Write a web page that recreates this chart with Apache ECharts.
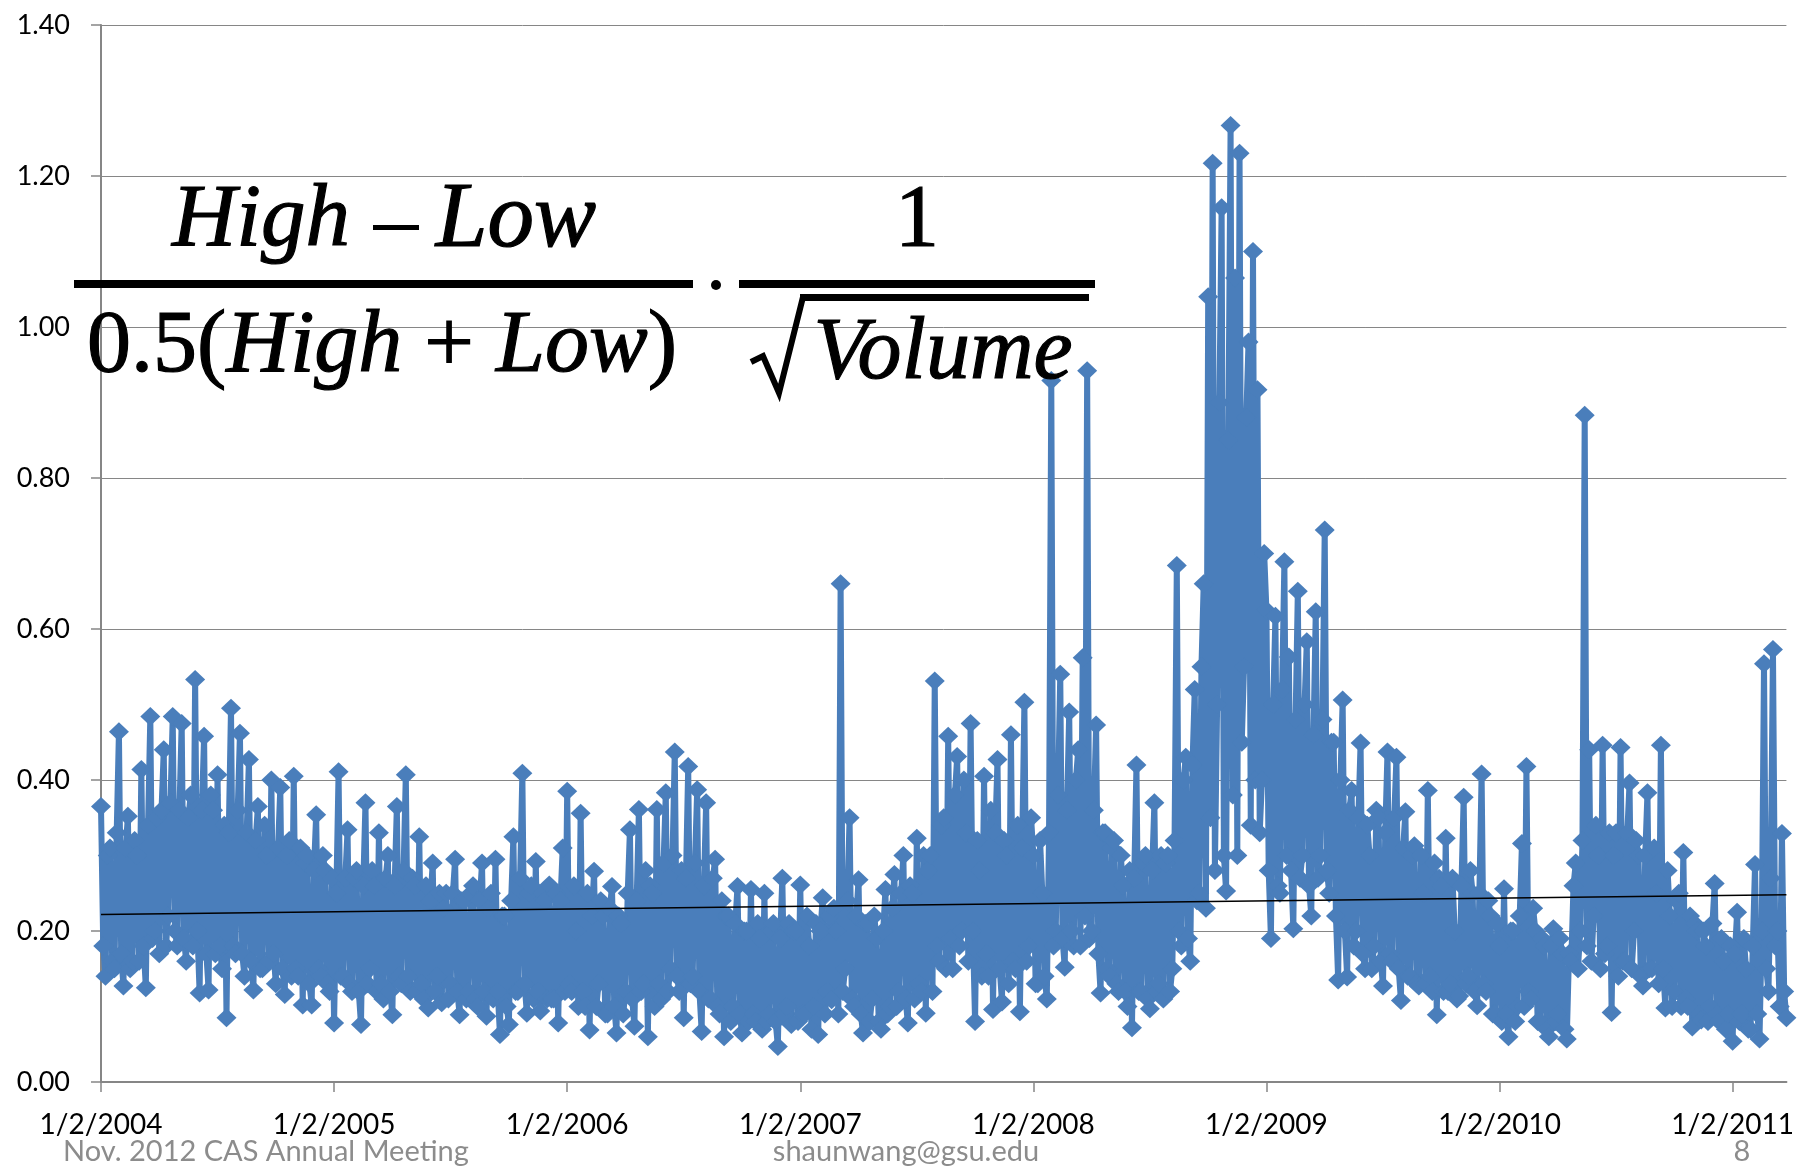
<!DOCTYPE html>
<html><head><meta charset="utf-8">
<script src="https://cdn.jsdelivr.net/npm/echarts@6/dist/echarts.min.js"></script>
<style>html,body{margin:0;padding:0;background:#fff;}#c{width:1797px;height:1168px;}</style>
</head><body><div id="c"></div>
<script>
// x-axis tick labels (one every 104 half-week points)
const tickLabels = ['1/2/2004','1/2/2005','1/2/2006','1/2/2007','1/2/2008','1/2/2009','1/2/2010','1/2/2011'];
// half-weekly readings of the liquidity measure (one row = 10 weeks)
const readings = [
  .365,.18, .14,.30, .31,.16, .15,.33, .464,.17, .127,.31, .352,.15, .16,.32, .30,.16, .414,.18,
  .125,.34, .484,.19, .20,.35, .17,.36, .44,.18, .22,.37, .484,.20, .18,.36, .475,.19, .16,.35,
  .38,.18, .533,.20, .118,.36, .458,.17, .122,.38, .36,.17, .407,.18, .15,.34, .085,.33, .495,.18,
  .17,.36, .462,.17, .14,.33, .427,.16, .122,.32, .365,.15, .15,.34, .30,.16, .40,.17, .13,.31,
  .39,.15, .116,.30, .32,.14, .405,.15, .14,.31, .102,.29, .30,.13, .102,.28, .354,.15, .14,.30,
  .28,.13, .12,.27, .078,.25, .411,.14, .14,.27, .334,.13, .12,.27, .28,.12, .076,.26, .37,.13,
  .15,.28, .26,.12, .33,.13, .11,.27, .30,.12, .089,.26, .365,.14, .13,.28, .407,.14, .12,.27,
  .26,.12, .325,.13, .11,.26, .098,.24, .29,.12, .14,.25, .105,.23, .25,.11, .13,.25, .295,.12,
  .089,.24, .24,.11, .12,.25, .26,.11, .10,.24, .29,.12, .087,.23, .25,.11, .295,.12, .063,.22,
  .22,.10, .076,.24, .325,.12, .12,.27, .409,.13, .091,.25, .26,.11, .292,.12, .094,.25, .24,.11,
  .261,.11, .11,.25, .078,.24, .31,.12, .385,.13, .12,.26, .20,.10, .356,.12, .10,.25, .069,.22,
  .279,.10, .13,.24, .22,.09, .09,.23, .259,.10, .065,.22, .21,.09, .12,.25, .334,.11, .074,.24,
  .361,.12, .13,.28, .06,.26, .25,.10, .361,.13, .11,.29, .383,.12, .15,.30, .437,.14, .12,.28,
  .085,.27, .418,.13, .14,.29, .387,.12, .067,.26, .37,.11, .11,.27, .295,.10, .09,.24, .06,.22,
  .22,.08, .10,.21, .259,.09, .065,.20, .20,.08, .255,.09, .08,.21, .19,.07, .25,.08, .09,.20,
  .21,.08, .047,.19, .27,.09, .10,.21, .076,.20, .20,.08, .261,.09, .09,.22, .18,.07, .10,.21,
  .063,.20, .244,.09, .12,.22, .109,.23, .20,.09, .66,.12, .15,.24, .35,.11, .10,.22, .268,.09,
  .065,.21, .21,.08, .11,.22, .19,.08, .07,.20, .255,.09, .10,.23, .275,.10, .12,.25, .30,.11,
  .078,.26, .25,.11, .323,.13, .12,.30, .091,.28, .30,.12, .531,.18, .16,.34, .35,.15, .458,.19,
  .15,.38, .431,.18, .20,.40, .33,.16, .475,.20, .08,.32, .28,.14, .405,.17, .14,.36, .096,.33,
  .427,.15, .106,.32, .30,.13, .46,.16, .15,.34, .093,.31, .503,.16, .18,.35, .30,.13, .13,.32,
  .25,.14, .11,.33, .929,.18, .20,.38, .54,.19, .152,.36, .49,.20, .18,.40, .44,.18, .562,.22,
  .942,.19, .20,.36, .473,.17, .118,.33, .33,.15, .14,.31, .32,.13, .12,.30, .26,.12, .10,.28,
  .072,.27, .42,.12, .12,.29, .30,.11, .097,.28, .37,.12, .13,.30, .11,.29, .30,.12, .15,.32,
  .684,.20, .18,.40, .43,.19, .16,.42, .52,.24, .25,.55, .66,.23, 1.04,.35, 1.217,.28, .50,.90,
  1.158,.30, .253,.85, 1.267,.38, 1.065,.30, 1.23,.45, .55,.88, .98,.34, 1.10,.40, .917,.33, .40,.70,
  .625,.28, .19,.50, .617,.26, .25,.52, .689,.30, .563,.28, .203,.48, .65,.27, .30,.50, .583,.26,
  .22,.46, .623,.27, .30,.48, .731,.28, .25,.45, .45,.22, .135,.40, .506,.20, .139,.36, .386,.18,
  .20,.35, .449,.17, .15,.34, .30,.15, .18,.36, .35,.16, .127,.33, .437,.17, .16,.35, .43,.15,
  .108,.31, .358,.14, .14,.30, .313,.13, .127,.30, .25,.13, .386,.14, .12,.29, .089,.27, .26,.12,
  .323,.12, .13,.27, .20,.11, .114,.26, .377,.13, .14,.28, .25,.12, .101,.25, .408,.13, .12,.24,
  .22,.09, .09,.21, .18,.08, .256,.09, .06,.20, .20,.08, .10,.22, .316,.10, .418,.12, .11,.23,
  .20,.08, .08,.19, .18,.07, .06,.18, .203,.08, .09,.19, .17,.07, .057,.17, .16,.26, .29,.15,
  .20,.32, .883,.18, .44,.16, .22,.34, .30,.15, .446,.17, .18,.33, .092,.30, .33,.14, .443,.16,
  .16,.33, .396,.15, .20,.32, .30,.14, .127,.30, .383,.15, .15,.31, .25,.13, .446,.15, .098,.28,
  .22,.10, .12,.24, .25,.10, .304,.11, .10,.22, .073,.21, .20,.09, .082,.20, .18,.08, .10,.21,
  .263,.09, .08,.19, .16,.07, .09,.18, .054,.17, .225,.08, .09,.19, .15,.07, .07,.18, .288,.09,
  .057,.20, .554,.15, .12,.27, .573,.18, .20,.10, .329,.12, .085
];
// linear trend line end points
const trendStart = 0.222;
const trendEnd = 0.248;
const pointsPerTick = 104;
const categories = readings.map((v, i) => String(i));

const chart = echarts.init(document.getElementById('c'), null, {renderer: 'canvas'});
const axisGray = '#868686';
const blue = '#4A7EBB';
const serif = '"Liberation Serif", "DejaVu Serif", serif';
const ink = {fill: '#000', stroke: '#000', lineWidth: 1.2};
chart.setOption({
  animation: false,
  backgroundColor: '#ffffff',
  grid: {left: 101, right: 9, top: 25, bottom: 86, containLabel: false},
  xAxis: {
    type: 'category',
    data: categories,
    boundaryGap: false,
    axisLine: {show: true, lineStyle: {color: axisGray, width: 2}},
    axisTick: {show: true, interval: pointsPerTick - 1, length: 10, lineStyle: {color: axisGray, width: 1.5}},
    axisLabel: {
      interval: pointsPerTick - 1,
      margin: 29,
      color: '#000',
      fontFamily: 'Lato',
      fontSize: 28,
      formatter: (val, idx) => tickLabels[Math.round(idx / pointsPerTick)] || ''
    },
    splitLine: {show: false}
  },
  yAxis: {
    type: 'value',
    min: 0, max: 1.4, interval: 0.2,
    axisLine: {show: true, lineStyle: {color: axisGray, width: 2}},
    axisTick: {show: true, length: 10, lineStyle: {color: axisGray, width: 1.5}},
    axisLabel: {margin: 31, color: '#000', fontFamily: 'Lato', fontSize: 27, formatter: v => v.toFixed(2)},
    splitLine: {show: true, lineStyle: {color: axisGray, width: 1}}
  },
  series: [{
    type: 'line',
    data: readings,
    showAllSymbol: true,
    symbol: 'path://M0,-10L10,0L0,10L-10,0Z',
    symbolSize: [20, 19],
    color: blue,
    itemStyle: {color: blue, borderWidth: 0},
    lineStyle: {color: blue, width: 6, join: 'round', cap: 'round'},
    emphasis: {disabled: true},
    z: 2,
    markLine: {
      silent: true,
      symbol: ['none', 'none'],
      label: {show: false},
      lineStyle: {color: '#000', width: 1.5, type: 'solid'},
      emphasis: {disabled: true},
      data: [[{coord: ['0', trendStart]}, {coord: [String(readings.length - 1), trendEnd]}]]
    }
  }],
  graphic: [
    {type: 'text', z: 100, x: 172, y: 222, style: Object.assign({text: 'High', fontFamily: serif, fontStyle: 'italic', fontSize: 89, textAlign: 'left', textVerticalAlign: 'middle'}, ink)},
    {type: 'rect', z: 100, shape: {x: 373, y: 225, width: 46, height: 5}, style: {fill: '#000'}},
    {type: 'text', z: 100, x: 596, y: 222, style: Object.assign({text: 'Low', fontFamily: serif, fontStyle: 'italic', fontSize: 93, textAlign: 'right', textVerticalAlign: 'middle'}, ink)},
    {type: 'rect', z: 100, shape: {x: 74, y: 280, width: 619, height: 8}, style: {fill: '#000'}},
    {type: 'text', z: 100, x: 382, y: 348, style: {
      text: '{u|0.5(}{i|High}{u| + }{i|Low}{u|)}',
      rich: {
        u: {fontFamily: serif, fontSize: 88, fill: '#000', stroke: '#000', lineWidth: 1.2},
        i: {fontFamily: serif, fontStyle: 'italic', fontSize: 88, fill: '#000', stroke: '#000', lineWidth: 1.2}
      },
      textAlign: 'center', textVerticalAlign: 'middle'}},
    {type: 'circle', z: 100, shape: {cx: 716, cy: 285, r: 5}, style: {fill: '#000'}},
    {type: 'text', z: 100, x: 917, y: 222, style: Object.assign({text: '1', fontFamily: serif, fontSize: 88, textAlign: 'center', textVerticalAlign: 'middle'}, ink)},
    {type: 'rect', z: 100, shape: {x: 739, y: 280, width: 356, height: 8}, style: {fill: '#000'}},
    {type: 'rect', z: 100, shape: {x: 800, y: 294, width: 289, height: 7}, style: {fill: '#000'}},
    {type: 'polyline', z: 100, shape: {points: [[751, 362], [763, 356], [779, 393], [803, 297]]}, style: {stroke: '#000', lineWidth: 6, fill: null, lineJoin: 'miter'}},
    {type: 'text', z: 100, x: 943, y: 355, style: Object.assign({text: 'Volume', fontFamily: serif, fontStyle: 'italic', fontSize: 88, textAlign: 'center', textVerticalAlign: 'middle'}, ink)},
    {type: 'text', z: 100, x: 63, y: 1152, style: {text: 'Nov. 2012 CAS Annual Meeting', fontFamily: 'Lato', fontSize: 29, fill: '#8c8c8c', textAlign: 'left', textVerticalAlign: 'middle'}},
    {type: 'text', z: 100, x: 906, y: 1152, style: {text: 'shaunwang@gsu.edu', fontFamily: 'Lato', fontSize: 29, fill: '#8c8c8c', textAlign: 'center', textVerticalAlign: 'middle'}},
    {type: 'text', z: 100, x: 1742, y: 1152, style: {text: '8', fontFamily: 'Lato', fontSize: 29, fill: '#8c8c8c', textAlign: 'center', textVerticalAlign: 'middle'}}
  ]
});
</script>
</body></html>
